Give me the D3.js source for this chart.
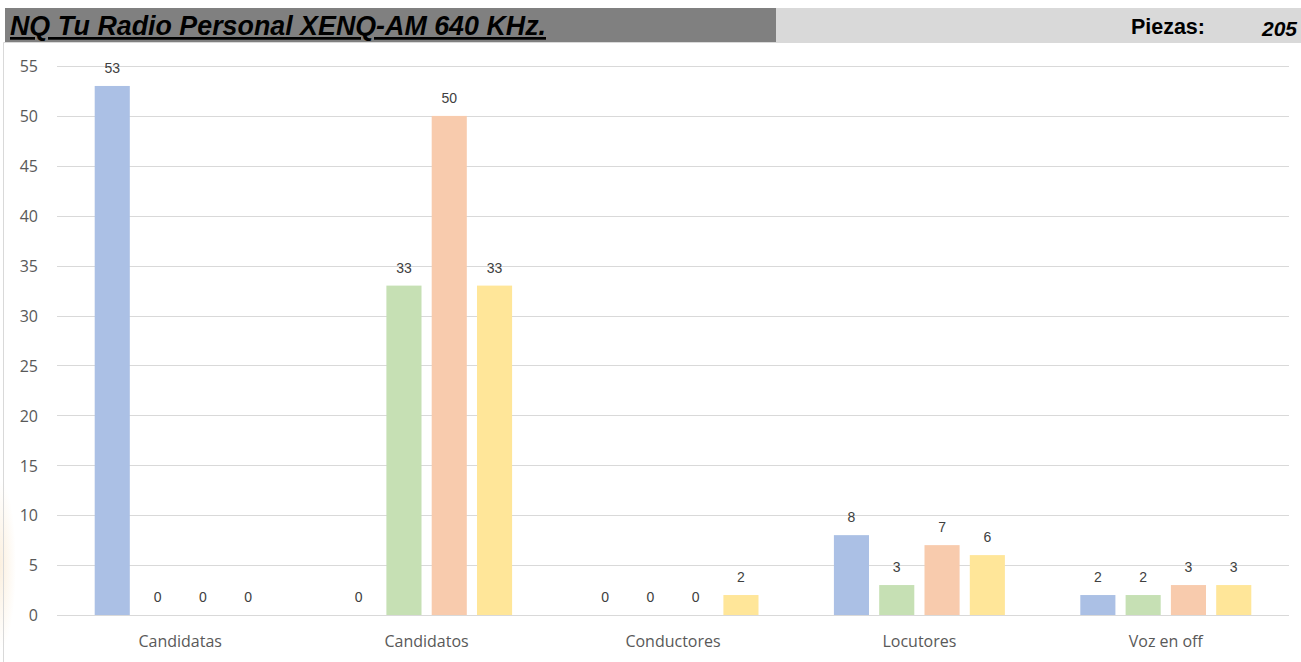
<!DOCTYPE html>
<html>
<head>
<meta charset="utf-8">
<script src="https://cdn.jsdelivr.net/npm/d3@7"></script>
<style>
  html, body { margin: 0; padding: 0; background: #fff; }
  svg { display: block; }
</style>
</head>
<body>
<svg id="chart" width="1301" height="662"></svg>
<script>
// Chart data
const categories = ["Candidatas", "Candidatos", "Conductores", "Locutores", "Voz en off"];
const series1 = [53, 0, 0, 8, 2];
const series2 = [0, 33, 0, 3, 2];
const series3 = [0, 50, 0, 7, 3];
const series4 = [0, 33, 2, 6, 3];
const seriesValues = [series1, series2, series3, series4];
const seriesColors = ["#ABC0E5", "#C6E0B4", "#F8CBAD", "#FFE699"];
const yTicks = [0, 5, 10, 15, 20, 25, 30, 35, 40, 45, 50, 55];
const titleText = "NQ Tu Radio Personal XENQ-AM 640 KHz.";
const totalLabel = "Piezas:";
const totalValue = 205;

const svg = d3.select("#chart");

// Soft logo tint at the left edge
const defs = svg.append("defs");
const grad = defs.append("radialGradient").attr("id", "edgeTint");
grad.append("stop").attr("offset", "0%").attr("stop-color", "#F6D9B0").attr("stop-opacity", 0.4);
grad.append("stop").attr("offset", "100%").attr("stop-color", "#F6D9B0").attr("stop-opacity", 0);
svg.append("ellipse").attr("cx", 0).attr("cy", 565).attr("rx", 16).attr("ry", 85).attr("fill", "url(#edgeTint)");

// Header band
svg.append("rect").attr("x", 5).attr("y", 8).attr("width", 771).attr("height", 34).attr("fill", "#808080");
svg.append("rect").attr("x", 776).attr("y", 8).attr("width", 525).attr("height", 34).attr("fill", "#D9D9D9");
svg.append("text")
  .attr("x", 10).attr("y", 35)
  .attr("font-family", "'Liberation Sans Narrow', 'Arial Narrow', 'Liberation Sans', Arial, sans-serif")
  .attr("font-size", 27).attr("font-weight", "bold").attr("font-style", "italic")
  .attr("text-decoration", "underline")
  .attr("textLength", 536).attr("lengthAdjust", "spacingAndGlyphs")
  .attr("fill", "#000")
  .text(titleText);
svg.append("text")
  .attr("x", 1205).attr("y", 34).attr("text-anchor", "end")
  .attr("font-family", "'Liberation Sans', Arial, sans-serif")
  .attr("font-size", 21.5).attr("font-weight", "bold")
  .attr("fill", "#000").text(totalLabel);
svg.append("text")
  .attr("x", 1297).attr("y", 36).attr("text-anchor", "end")
  .attr("font-family", "'Liberation Sans', Arial, sans-serif")
  .attr("font-size", 21).attr("font-weight", "bold").attr("font-style", "italic")
  .attr("fill", "#000").text(totalValue);

// Chart frame
svg.append("path")
  .attr("d", "M3.5,662 V42.5 H1301")
  .attr("fill", "none").attr("stroke", "#D9D9D9").attr("stroke-width", 1);

// Scales
const plot = { left: 57, right: 1289, top: 66, bottom: 615 };
const y = d3.scaleLinear().domain([0, 55]).range([plot.bottom, plot.top]);
const x0 = d3.scaleBand().domain(categories).range([plot.left, plot.right]).paddingInner(0).paddingOuter(0);
const groupWidth = 171;
const x1 = d3.scaleBand().domain(d3.range(seriesValues.length)).range([0, groupWidth])
  .paddingInner(0.225).paddingOuter(0);

// Gridlines
svg.append("g")
  .selectAll("line")
  .data(yTicks)
  .join("line")
  .attr("x1", plot.left).attr("x2", plot.right)
  .attr("y1", d => Math.round(y(d)) + 0.5).attr("y2", d => Math.round(y(d)) + 0.5)
  .attr("stroke", "#D9D9D9").attr("stroke-width", 1);

// Y axis labels
const yAxis = svg.append("g")
  .attr("transform", `translate(${plot.left - 19},0)`)
  .call(d3.axisLeft(y).tickValues(yTicks).tickSize(0).tickPadding(0));
yAxis.select(".domain").remove();
yAxis.selectAll("text")
  .attr("font-family", "'Open Sans', 'Liberation Sans', sans-serif")
  .attr("font-size", 16).attr("fill", "#595959").attr("dy", "0.36em");

// X axis labels
const xAxis = svg.append("g")
  .attr("transform", `translate(0,${plot.bottom})`)
  .call(d3.axisBottom(x0).tickSize(0).tickPadding(0));
xAxis.select(".domain").remove();
xAxis.selectAll("text")
  .attr("font-family", "'Open Sans', 'Liberation Sans', sans-serif")
  .attr("font-size", 16).attr("fill", "#595959").attr("dy", "2.0em");

// Bars
const flat = [];
categories.forEach((c, ci) => {
  seriesValues.forEach((vals, si) => flat.push({ cat: c, si, value: vals[ci] }));
});
const barX = d => x0(d.cat) + (x0.bandwidth() - groupWidth) / 2 + x1(d.si);

svg.append("g")
  .selectAll("rect")
  .data(flat.filter(d => d.value > 0))
  .join("rect")
  .attr("x", barX)
  .attr("y", d => y(d.value))
  .attr("width", x1.bandwidth())
  .attr("height", d => y(0) - y(d.value))
  .attr("fill", d => seriesColors[d.si]);

// Value labels
svg.append("g")
  .selectAll("text")
  .data(flat)
  .join("text")
  .attr("x", d => barX(d) + x1.bandwidth() / 2)
  .attr("y", d => y(d.value) - 13)
  .attr("text-anchor", "middle")
  .attr("font-family", "'Liberation Sans', Arial, sans-serif")
  .attr("font-size", 14).attr("fill", "#404040")
  .text(d => d.value);
</script>
</body>
</html>
